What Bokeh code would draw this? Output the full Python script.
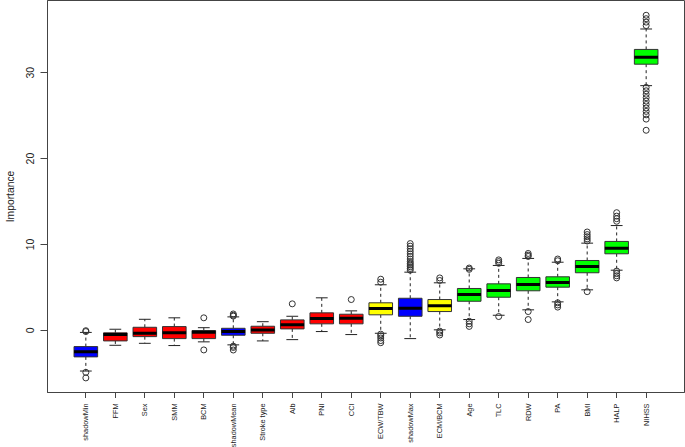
import math
from bokeh.plotting import figure
from bokeh.models import Range1d, FixedTicker
from bokeh.layouts import column
from bokeh.core.properties import value
from bokeh.embed import file_html
from bokeh.resources import INLINE

categories = ["shadowMin", "FFM", "Sex", "SMM", "BCM", "shadowMean", "Stroke type",
              "Alb", "PNI", "CCI", "ECW/TBW", "shadowMax", "ECM/BCM", "Age", "TLC",
              "RDW", "PA", "BMI", "HALP", "NIHSS"]
box_colors = ["#0000FF", "#FF0000", "#FF0000", "#FF0000", "#FF0000", "#0000FF", "#FF0000",
              "#FF0000", "#FF0000", "#FF0000", "#FFFF00", "#0000FF", "#FFFF00", "#00FF00",
              "#00FF00", "#00FF00", "#00FF00", "#00FF00", "#00FF00", "#00FF00"]
q1 = [-3.1, -1.24, -0.74, -0.97, -0.97, -0.58, -0.35, 0.16, 0.75, 0.75,
      1.8, 1.63, 2.18, 3.38, 3.85, 4.6, 5.02, 6.7, 8.91, 31.0]
med = [-2.49, -0.5, -0.35, -0.3, -0.23, -0.15, 0.04, 0.63, 1.37, 1.4,
       2.53, 2.57, 2.85, 4.17, 4.63, 5.33, 5.57, 7.43, 9.57, 31.82]
q3 = [-1.9, -0.3, 0.35, 0.43, -0.03, 0.23, 0.47, 1.21, 2.03, 1.87,
      3.2, 3.73, 3.58, 4.87, 5.41, 6.15, 6.23, 8.13, 10.35, 32.72]
lo = [-4.75, -1.75, -1.52, -1.78, -1.35, -1.7, -1.24, -1.09, -0.15, -0.5,
      -0.35, -0.97, 0.05, 1.25, 1.75, 2.38, 3.31, 4.71, 7.0, 28.5]
hi = [-0.25, 0.12, 1.28, 1.45, 0.3, 1.56, 1.0, 1.63, 3.78, 2.26,
      5.3, 6.77, 5.53, 7.16, 7.55, 8.37, 7.93, 10.15, 12.2, 35.1]
outliers = [
    [-0.15, -0.05, -4.9, -5.55],
    [],
    [],
    [],
    [1.45, -2.29],
    [1.65, 1.75, 1.9, -1.85, -2.0, -2.3],
    [],
    [3.08],
    [],
    [3.58],
    [5.6, 5.95, -0.45, -0.65, -0.9, -1.2, -1.45],
    [7.0, 7.2, 7.4, 7.6, 7.8, 8.0, 8.3, 8.6, 8.9, 9.2, 9.5, 9.8, 10.1],
    [5.8, 6.1, -0.1, -0.3, -0.55],
    [7.1, 7.25, 1.05, 0.75, 0.45],
    [7.8, 8.0, 8.2, 1.6],
    [8.6, 8.75, 8.95, 2.18, 1.25],
    [8.1, 8.3, 3.2, 2.95, 2.7],
    [10.4, 10.65, 10.9, 11.15, 11.45, 4.5],
    [12.7, 13.0, 13.3, 13.7, 6.9, 6.6, 6.35, 6.1],
    [35.5, 35.9, 36.3, 36.7, 28.3, 27.9, 27.5, 27.1, 26.7, 26.3, 25.9, 25.5,
     25.1, 24.6, 23.3],
]
y_ticks = [0, 10, 20, 30]

xs = list(range(1, len(categories) + 1))
BOXW = 0.8
CAPW = 0.4
FONT = "Liberation Sans"
W = 685
H_MAIN = 398
H_LAB = 49

p = figure(width=W, height=H_MAIN, output_backend="svg", toolbar_location=None,
           x_range=Range1d(-0.3, 21.3), y_range=Range1d(-7.25, 38.42),
           min_border_left=47, min_border_right=1, min_border_top=0, min_border_bottom=6)
p.grid.visible = False
p.outline_line_color = "#444444"
p.outline_line_width = 1

p.segment(x0=xs, y0=q3, x1=xs, y1=hi, line_color="#222222", line_width=1, line_dash="3 3")
p.segment(x0=xs, y0=q1, x1=xs, y1=lo, line_color="#222222", line_width=1, line_dash="3 3")
p.segment(x0=[x - CAPW / 2 for x in xs], y0=hi, x1=[x + CAPW / 2 for x in xs], y1=hi,
          line_color="#222222", line_width=1)
p.segment(x0=[x - CAPW / 2 for x in xs], y0=lo, x1=[x + CAPW / 2 for x in xs], y1=lo,
          line_color="#222222", line_width=1)
p.vbar(x=xs, width=BOXW, bottom=q1, top=q3, fill_color=box_colors,
       line_color="#333333", line_width=1)
p.segment(x0=[x - BOXW / 2 for x in xs], y0=med, x1=[x + BOXW / 2 for x in xs], y1=med,
          line_color="black", line_width=3)
ox, oy = [], []
for x, vals in zip(xs, outliers):
    for v in vals:
        ox.append(x)
        oy.append(v)
p.scatter(x=ox, y=oy, marker="circle", size=6, fill_color=None,
          line_color="#333333", line_width=1)

p.xaxis.ticker = FixedTicker(ticks=xs)
p.xaxis.major_label_overrides = {x: "" for x in xs}
p.xaxis.major_label_text_font_size = "1px"
p.xaxis.major_label_standoff = 0
p.xaxis.axis_label_standoff = 0
p.xaxis.major_tick_out = 6
p.xaxis.major_tick_in = 0
p.xaxis.minor_tick_line_color = None
p.xaxis.axis_line_color = "#444444"
p.xaxis.major_tick_line_color = "#444444"

p.yaxis.ticker = FixedTicker(ticks=y_ticks)
p.yaxis.major_label_orientation = "vertical"
p.yaxis.major_label_text_font = FONT
p.yaxis.major_label_text_font_size = "10.5px"
p.yaxis.major_label_standoff = 6
p.yaxis.major_tick_out = 7
p.yaxis.major_tick_in = 0
p.yaxis.minor_tick_line_color = None
p.yaxis.axis_line_color = "#444444"
p.yaxis.major_tick_line_color = "#444444"
p.yaxis.major_label_text_color = "#222222"
p.yaxis.axis_label = "Importance"
p.yaxis.axis_label_text_font = FONT
p.yaxis.axis_label_text_font_size = "10.3px"
p.yaxis.axis_label_text_font_style = "normal"
p.yaxis.axis_label_text_color = "#222222"
p.yaxis.axis_label_standoff = 8

# strip below the plot carrying the rotated category tick labels (pixel-unit y range)
lab = figure(width=W, height=H_LAB, output_backend="svg", toolbar_location=None,
             x_range=p.x_range, y_range=Range1d(-H_LAB, 0),
             min_border_left=47, min_border_right=1, min_border_top=0, min_border_bottom=0)
lab.axis.visible = False
lab.grid.visible = False
lab.outline_line_color = None
lab.text(x=xs, y=[-5] * len(xs), text=categories, angle=math.pi / 2,
         text_align="right", text_baseline="middle",
         text_font=value(FONT), text_font_size=value("7.35px"), text_color="#222222")

layout = column(p, lab, spacing=0)
open("out.html", "w").write(file_html(layout, INLINE))
